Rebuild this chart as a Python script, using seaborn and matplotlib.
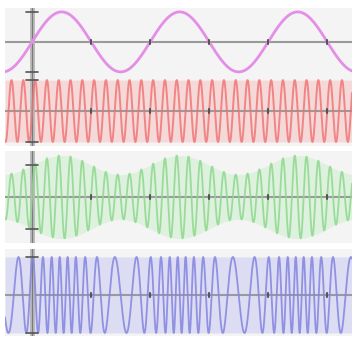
import numpy as np
import pandas as pd
import matplotlib
matplotlib.use("Agg")
import matplotlib.pyplot as plt
import seaborn as sns

# signal parameters (x in axis units, 1 unit = one axis tick)
signal_names = ["signal", "carrier", "AM", "FM"]
modulating_freq = 0.5      # cycles per unit (one full period = 2 ticks)
carrier_freq = 5.0         # cycles per unit
am_depth = 0.3             # envelope 1 +/- 0.3
fm_deviation = 2.5         # cycles per unit
x_range = [-0.46, 5.42]
axis_ticks = [1, 2, 3, 4, 5]
line_colors = ["#e48ee8", "#f07070", "#8ed88e", "#8484e0"]
fill_colors = ["none", "#f8b8b8", "#c4eec4", "#c0c0f2"]

sns.set_style("white")

W, H = 352, 338
fig = plt.figure(figsize=(W / 100, H / 100), dpi=100)

x = np.linspace(x_range[0], x_range[1], 4000)
m = np.sin(2 * np.pi * modulating_freq * x)
c = np.sin(2 * np.pi * carrier_freq * x)
am = (1 + am_depth * m) * c
fm = np.sin(2 * np.pi * carrier_freq * x
            - fm_deviation / modulating_freq * np.cos(2 * np.pi * modulating_freq * x))
series = [m, c, am, fm]
envelopes = [None, np.ones_like(x), 1 + am_depth * m, np.ones_like(x)]

# panel pixel boxes (top, bottom) and y limits (top, bottom)
panels = [
    (8, 77, 1.13, -1.17),
    (77, 146, 1.10, -1.13),
    (151, 243, 1.44, -1.44),
    (249, 336, 1.21, -1.08),
]
widths = [2.0, 1.4, 1.3, 1.3]
alphas = [1.0, 0.8, 0.85, 0.85]

for i, (top, bot, yt, yb) in enumerate(panels):
    ax = fig.add_axes([5 / W, 1 - bot / H, (W - 5) / W, (bot - top) / H])
    ax.set_facecolor("#f4f4f4")
    if envelopes[i] is not None:
        ax.fill_between(x, -envelopes[i], envelopes[i], color=fill_colors[i],
                        alpha=0.45, lw=0, zorder=0.5)
    df = pd.DataFrame({"x": x, "y": series[i]})
    ax.axhline(0, color="#9a9a9a", lw=1.5, zorder=1)
    ax.axvline(0, color="#b8b8b8", lw=3.5, zorder=1)
    ax.axvline(0, color="#7a7a7a", lw=0.8, zorder=1)
    sns.lineplot(data=df, x="x", y="y", ax=ax, color=line_colors[i],
                 lw=widths[i], alpha=alphas[i], zorder=2, estimator=None, sort=False)
    # +/-1 ticks on the vertical axis
    for yy in (1, -1):
        ax.plot([-0.1, 0.1], [yy, yy], color="#555555", lw=1.2, zorder=3)
    # ticks on the horizontal axis
    for t in axis_ticks:
        ax.plot([t, t], [-0.06, 0.06], color="#555555", lw=1.5, zorder=3)
    ax.set_xlim(x_range)
    ax.set_ylim(yb, yt)
    ax.set_xticks([])
    ax.set_yticks([])
    ax.set_xlabel("")
    ax.set_ylabel("")
    for s in ax.spines.values():
        s.set_visible(False)

fig.savefig("out.png", dpi=100, facecolor="white")
